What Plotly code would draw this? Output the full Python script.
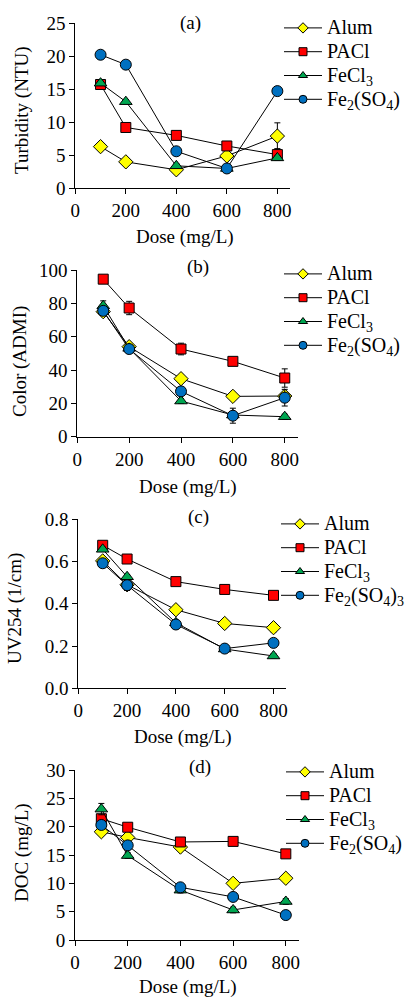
import plotly.graph_objects as go

dose = [100, 200, 400, 600, 800]
series_names = ["Alum", "PACl", "FeCl<sub>3</sub>", "Fe<sub>2</sub>(SO<sub>4</sub>)"]
series_names_c = ["Alum", "PACl", "FeCl<sub>3</sub>", "Fe<sub>2</sub>(SO<sub>4</sub>)<sub>3</sub>"]

# (a) Turbidity (NTU)
turb_alum = [6.3, 4.0, 2.8, 4.9, 7.9]
turb_pacl = [15.7, 9.2, 8.0, 6.4, 5.1]
turb_fecl3 = [15.9, 13.1, 3.4, 3.0, 4.6]
turb_fe2so4 = [20.2, 18.7, 5.6, 3.0, 14.7]
turb_err_alum = [0.3, 0.3, 0.3, 0.5, 2.0]
turb_err_pacl = [0.3, 0.3, 0.5, 0.6, 0.9]
turb_err_fecl3 = [0.3, 0.3, 0.3, 0.3, 0.3]
turb_err_fe2so4 = [0.3, 0.3, 0.3, 0.4, 0.3]

# (b) Color (ADMI)
col_alum = [75, 54, 34.8, 24.2, 24.4]
col_pacl = [94.5, 77.2, 52.6, 45.2, 35.2]
col_fecl3 = [78.5, 53.0, 21.4, 13.0, 12.0]
col_fe2so4 = [75.5, 52.6, 27.2, 12.6, 23.4]
col_err_alum = [2, 2, 2, 1.5, 2]
col_err_pacl = [2, 4, 3.5, 2, 5.5]
col_err_fecl3 = [3, 2, 1.5, 1.5, 1.5]
col_err_fe2so4 = [2, 2, 2, 4.5, 5]

# (c) UV254 (1/cm)
uv_alum = [0.603, 0.49, 0.372, 0.307, 0.287]
uv_pacl = [0.677, 0.612, 0.505, 0.468, 0.44]
uv_fecl3 = [0.658, 0.528, 0.31, 0.186, 0.153]
uv_fe2so4 = [0.592, 0.488, 0.302, 0.188, 0.215]
uv_err_alum = [0.01, 0.01, 0.015, 0.01, 0.02]
uv_err_pacl = [0.01, 0.01, 0.01, 0.01, 0.01]
uv_err_fecl3 = [0.01, 0.01, 0.01, 0.01, 0.01]
uv_err_fe2so4 = [0.01, 0.025, 0.01, 0.01, 0.015]

# (d) DOC (mg/L)
doc_alum = [19.1, 18.1, 16.4, 10.0, 10.9]
doc_pacl = [21.4, 19.9, 17.3, 17.4, 15.2]
doc_fecl3 = [23.1, 14.9, 8.8, 5.3, 6.8]
doc_fe2so4 = [20.3, 16.7, 9.3, 7.6, 4.4]
doc_err_alum = [0.5, 0.5, 0.5, 0.5, 0.5]
doc_err_pacl = [0.5, 0.5, 0.5, 0.5, 0.5]
doc_err_fecl3 = [1.0, 0.5, 0.5, 0.5, 0.5]
doc_err_fe2so4 = [0.5, 0.5, 0.5, 0.5, 0.5]

panel_labels = ["(a)", "(b)", "(c)", "(d)"]
y_titles = ["Turbidity (NTU)", "Color (ADMI)", "UV254 (1/cm)", "DOC (mg/L)"]
x_title = "Dose (mg/L)"
x_ticks = [0, 200, 400, 600, 800]

colors = ["#FFFF00", "#FF0000", "#00A651", "#0070C0"]
symbols = ["diamond", "square", "triangle-up", "circle"]
sizes = [11, 10, 11, 11]

W, H = 408, 997
FONT = "Liberation Serif"

# panel geometry (pixels): x0 (value 0), x_end, y_bottom, y_top
geom = [
    (75.3, 290.0, 188.3, 23.0),
    (77.3, 297.7, 436.7, 270.0),
    (78.3, 285.7, 688.3, 519.3),
    (75.0, 299.0, 940.0, 770.0),
]
y_ranges = [[0, 25], [0, 100], [0, 0.8], [0, 30]]
y_dticks = [5, 20, 0.2, 5]
y_formats = ["d", "d", ".1f", "d"]
legend_tops = [11, 257, 507, 755]
legend_lefts = [279, 279, 276, 281]
label_pos = [(190, 23), (198, 267), (198, 517), (200, 767)]
ytitle_pos = [(22, 110), (20, 362), (15, 609), (22, 853)]
xtitle_pos = [(185, 237), (188, 487), (183, 737), (188, 987)]

panels = [
    ([turb_alum, turb_pacl, turb_fecl3, turb_fe2so4],
     [turb_err_alum, turb_err_pacl, turb_err_fecl3, turb_err_fe2so4], series_names),
    ([col_alum, col_pacl, col_fecl3, col_fe2so4],
     [col_err_alum, col_err_pacl, col_err_fecl3, col_err_fe2so4], series_names),
    ([uv_alum, uv_pacl, uv_fecl3, uv_fe2so4],
     [uv_err_alum, uv_err_pacl, uv_err_fecl3, uv_err_fe2so4], series_names_c),
    ([doc_alum, doc_pacl, doc_fecl3, doc_fe2so4],
     [doc_err_alum, doc_err_pacl, doc_err_fecl3, doc_err_fe2so4], series_names),
]

fig = go.Figure()
layout = dict(
    width=W, height=H, margin=dict(l=0, r=0, t=0, b=0, autoexpand=False),
    paper_bgcolor="white", plot_bgcolor="white",
    font=dict(family=FONT, size=19, color="black"),
    annotations=[],
)

for p, (ys, errs, names) in enumerate(panels):
    sfx = "" if p == 0 else str(p + 1)
    xa, ya = "x" + sfx, "y" + sfx
    leg = "legend" + sfx
    for s in range(4):
        fig.add_trace(go.Scatter(
            x=dose, y=ys[s], xaxis=xa, yaxis=ya, mode="lines+markers",
            line=dict(color="black", width=1),
            marker=dict(symbol=symbols[s], size=sizes[s], color=colors[s],
                        line=dict(color="black", width=1)),
            error_y=dict(type="data", array=errs[s], visible=True,
                         color="black", thickness=1, width=3),
            showlegend=False, cliponaxis=False,
        ))
    for s in range(4):
        fig.add_trace(go.Scatter(
            x=[None], y=[None], xaxis=xa, yaxis=ya, mode="lines+markers",
            name="<span style='font-size:20px'>" + names[s] + "</span>", legend=leg,
            line=dict(color="black", width=1),
            marker=dict(symbol=symbols[s], size=8, color=colors[s],
                        line=dict(color="black", width=1)),
            showlegend=True,
        ))
    x0, xe, yb, yt = geom[p]
    xdom = [x0 / W, xe / W]
    ydom = [(H - yb) / H, (H - yt) / H]
    layout["xaxis" + sfx] = dict(
        domain=xdom, range=[0, 850], anchor=ya, tickvals=x_ticks,
        showline=True, linecolor="black", linewidth=1, automargin=False,
        ticks="outside", ticklen=5, tickcolor="black", showgrid=False,
        zeroline=False, tickfont=dict(size=19, family=FONT),
    )
    layout["yaxis" + sfx] = dict(
        domain=ydom, range=y_ranges[p], anchor=xa, dtick=y_dticks[p],
        tickformat=y_formats[p], automargin=False,
        showline=True, linecolor="black", linewidth=1,
        ticks="outside", ticklen=5, tickcolor="black", showgrid=False,
        zeroline=False, tickfont=dict(size=19, family=FONT),
    )
    layout[leg] = dict(
        x=legend_lefts[p] / W, y=(H - legend_tops[p]) / H, xanchor="left", yanchor="top",
        font=dict(size=16, family=FONT), bgcolor="rgba(0,0,0,0)",
        tracegroupgap=0, itemsizing="trace", itemwidth=38,
    )
    lx, ly = label_pos[p]
    layout["annotations"].append(dict(
        text=panel_labels[p], xref="paper", yref="paper",
        x=lx / W, y=(H - ly) / H, xanchor="center", yanchor="middle",
        showarrow=False, font=dict(size=19, family=FONT),
    ))
    tx, ty = ytitle_pos[p]
    layout["annotations"].append(dict(
        text=y_titles[p], xref="paper", yref="paper", textangle=-90,
        x=tx / W, y=(H - ty) / H, xanchor="center", yanchor="middle",
        showarrow=False, font=dict(size=19, family=FONT),
    ))
    tx, ty = xtitle_pos[p]
    layout["annotations"].append(dict(
        text=x_title, xref="paper", yref="paper",
        x=tx / W, y=(H - ty) / H, xanchor="center", yanchor="middle",
        showarrow=False, font=dict(size=19, family=FONT),
    ))

fig.update_layout(**layout)
fig.write_html("out.html")
